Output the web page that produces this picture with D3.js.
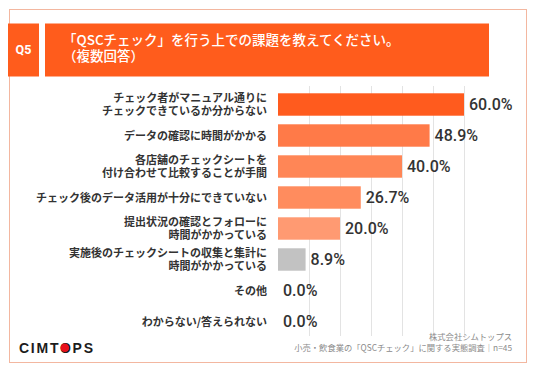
<!DOCTYPE html>
<html>
<head>
<meta charset="utf-8">
<script src="https://cdn.jsdelivr.net/npm/d3@7"></script>
<style>
  html, body { margin: 0; padding: 0; background: #ffffff; }
  svg { display: block; }
</style>
</head>
<body>
<svg id="chart" width="536" height="371"></svg>
<script>
// ---- data ----
const categories = [
  "チェック者がマニュアル通りに\nチェックできているか分からない",
  "データの確認に時間がかかる",
  "各店舗のチェックシートを\n付け合わせて比較することが手間",
  "チェック後のデータ活用が十分にできていない",
  "提出状況の確認とフォローに\n時間がかかっている",
  "実施後のチェックシートの収集と集計に\n時間がかかっている",
  "その他",
  "わからない/答えられない"
];
const values = [60.0, 48.9, 40.0, 26.7, 20.0, 8.9, 0.0, 0.0];
const barColors = ["#FF5B1E", "#FF7A48", "#FF8656", "#FF8C5E", "#FF9A72", "#C2C2C2", "#C2C2C2", "#C2C2C2"];
const gridTicks = [10, 20, 30, 40, 50, 60];
const questionNo = "Q5";
const titleLines = ["「QSCチェック」を行う上での課題を教えてください。", "（複数回答）"];
const footnoteLines = ["株式会社シムトップス", "小売・飲食業の「QSCチェック」に関する実態調査｜n=45"];
const logoText = "CIMTOPS";

// ---- drawing ----
const svg = d3.select("#chart");
const jp = "'Noto Sans CJK JP', 'Noto Sans', sans-serif";

// outer frame
svg.append("rect")
  .attr("x", 9.5).attr("y", 9.5).attr("width", 517).attr("height", 353)
  .attr("fill", "#ffffff").attr("stroke", "#F3B7A0").attr("stroke-width", 1);

// header boxes
svg.append("rect").attr("x", 8).attr("y", 23.5).attr("width", 31).attr("height", 53)
  .attr("fill", "#FF5C1C");
svg.append("rect").attr("x", 45).attr("y", 23.5).attr("width", 444).attr("height", 53)
  .attr("fill", "#FF5C1C");
svg.append("text").attr("x", 23.5).attr("y", 54)
  .attr("text-anchor", "middle").attr("fill", "#ffffff")
  .attr("font-family", "Roboto, 'Noto Sans', sans-serif").attr("font-weight", 700)
  .attr("font-size", 12.5).text(questionNo);
svg.append("text").attr("font-family", jp).attr("font-weight", 500)
  .attr("font-size", 13.5).attr("fill", "#ffffff")
  .selectAll("tspan").data(titleLines).join("tspan")
  .attr("x", 63).attr("y", (d, i) => 45 + i * 16).text(d => d);

// scales
const x = d3.scaleLinear().domain([0, 60]).range([278, 464]);
const y = d3.scaleBand().domain(categories).range([89, 337])
  .paddingInner(0.277).paddingOuter(0.1385);

// gridlines
svg.append("g").selectAll("line").data(gridTicks).join("line")
  .attr("x1", d => Math.round(x(d)) + 0.5).attr("x2", d => Math.round(x(d)) + 0.5)
  .attr("y1", 86).attr("y2", 336)
  .attr("stroke", "#E3E3E3").attr("stroke-width", 1);

// bars
svg.append("g").selectAll("rect").data(categories).join("rect")
  .attr("x", x(0)).attr("y", d => y(d))
  .attr("width", (d, i) => x(values[i]) - x(0))
  .attr("height", y.bandwidth())
  .attr("fill", (d, i) => barColors[i]);

// value labels
svg.append("g").selectAll("text").data(categories).join("text")
  .attr("x", (d, i) => x(values[i]) + 5)
  .attr("y", d => y(d) + y.bandwidth() / 2 + 5.8)
  .attr("font-family", "Roboto, 'Noto Sans', sans-serif").attr("font-weight", 500)
  .attr("font-size", 16).attr("fill", "#333333")
  .text((d, i) => values[i].toFixed(1) + "%");

// category labels
const catG = svg.append("g");
categories.forEach(c => {
  const lines = c.split("\n");
  const cy = y(c) + y.bandwidth() / 2;
  const pitch = 13;
  const t = catG.append("text").attr("text-anchor", "end")
    .attr("font-family", jp).attr("font-weight", 700)
    .attr("font-size", 11).attr("fill", "#333333");
  lines.forEach((ln, i) => {
    t.append("tspan").attr("x", 267)
      .attr("y", cy + 4 + (i - (lines.length - 1) / 2) * pitch)
      .text(ln);
  });
});

// footnote
svg.append("text").attr("text-anchor", "end")
  .attr("font-family", jp).attr("font-size", 8.3).attr("fill", "#8a8a8a")
  .selectAll("tspan").data(footnoteLines).join("tspan")
  .attr("x", 512).attr("y", (d, i) => 339.5 + i * 11)
  .text(d => d);

// logo
const logo = svg.append("text").attr("x", 19).attr("y", 352.7)
  .attr("font-family", "'Liberation Sans', Arial, sans-serif").attr("font-weight", 700)
  .attr("font-size", 14).attr("fill", "#1c1c1c")
  .attr("textLength", 74).attr("lengthAdjust", "spacing")
  .text(logoText);
try {
  const ext = logo.node().getExtentOfChar(4);
  svg.append("circle")
    .attr("cx", ext.x + ext.width / 2 - 0.6)
    .attr("cy", 347.7)
    .attr("r", 4.3)
    .attr("fill", "#E8101C");
} catch (e) {}
</script>
</body>
</html>
